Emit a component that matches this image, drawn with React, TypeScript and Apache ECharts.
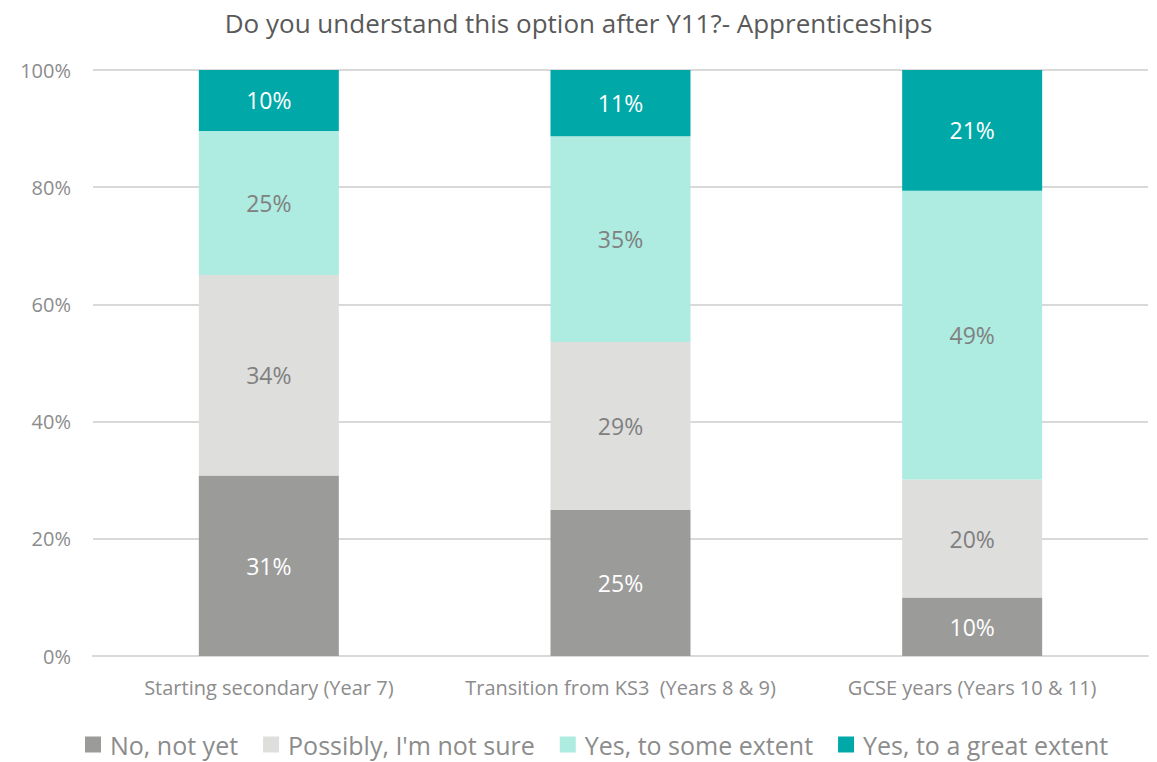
import React, { useEffect, useRef } from "react";
import * as echarts from "echarts";

const categories = [
  "Starting secondary (Year 7)",
  "Transition from KS3  (Years 8 & 9)",
  "GCSE years (Years 10 & 11)",
];
const seriesNames = [
  "No, not yet",
  "Possibly, I'm not sure",
  "Yes, to some extent",
  "Yes, to a great extent",
];
const noNotYet = [30.8, 24.9, 10.0];
const possibly = [34.2, 28.7, 20.1];
const someExtent = [24.6, 35.1, 49.3];
const greatExtent = [10.4, 11.3, 20.6];
const yTicks = [0, 20, 40, 60, 80, 100];

const colors = ["#9B9B9A", "#DEDEDD", "#AEEBE0", "#00A9A8"];
const labelColors = ["#FFFFFF", "#808080", "#808080", "#FFFFFF"];
const FONT = "'Open Sans', Lato, sans-serif";

export default function App() {
  const ref = useRef<HTMLDivElement>(null);
  useEffect(() => {
    if (!ref.current) return;
    const chart = echarts.init(ref.current, null, { renderer: "svg" });
    const values = [noNotYet, possibly, someExtent, greatExtent];
    chart.setOption({
      animation: false,
      textStyle: { fontFamily: FONT },
      title: {
        text: "Do you understand this option after Y11?- Apprenticeships",
        left: "center",
        top: 5,
        textStyle: { fontFamily: FONT, fontSize: 26, fontWeight: "normal", color: "#595959" },
      },
      grid: { left: 93, right: 9, top: 70, bottom: 106 },
      xAxis: {
        type: "category",
        data: categories,
        axisLine: { show: true, lineStyle: { color: "#D9D9D9", width: 2 } },
        axisTick: { show: false },
        axisLabel: { color: "#8C8C8C", fontSize: 20, margin: 21, interval: 0, fontFamily: FONT },
      },
      yAxis: {
        type: "value",
        min: yTicks[0],
        max: yTicks[yTicks.length - 1],
        interval: 20,
        axisLine: { show: false },
        axisTick: { show: false },
        splitLine: { lineStyle: { color: "#D9D9D9", width: 2 } },
        axisLabel: {
          color: "#8C8C8C",
          fontSize: 20,
          margin: 22,
          fontFamily: FONT,
          formatter: (v: number) => `${v}%`,
        },
      },
      legend: {
        top: 727,
        left: 80,
        itemWidth: 16,
        itemHeight: 16,
        itemGap: 25,
        icon: "rect",
        textStyle: { color: "#8C8C8C", fontSize: 25, fontFamily: FONT, padding: [0, 0, 0, 4] },
        data: seriesNames,
      },
      series: seriesNames.map((name, i) => ({
        name,
        type: "bar",
        stack: "total",
        barWidth: 140,
        data: values[i],
        itemStyle: { color: colors[i] },
        label: {
          show: true,
          position: "inside",
          color: labelColors[i],
          fontSize: 23,
          fontFamily: FONT,
          formatter: (p: any) => `${Math.round(p.value)}%`,
        },
      })),
    });
    return () => chart.dispose();
  }, []);
  return <div ref={ref} style={{ width: 1157, height: 762, position: "absolute", left: 0, top: 0, background: "#fff" }} />;
}
